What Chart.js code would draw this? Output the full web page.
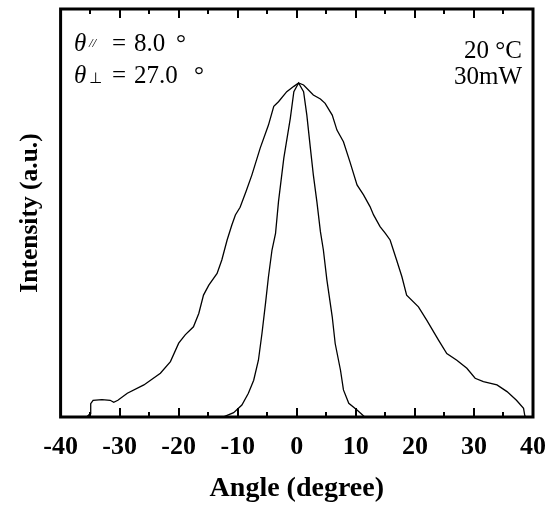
<!DOCTYPE html>
<html><head><meta charset="utf-8">
<script src="https://cdn.jsdelivr.net/npm/chart.js@4/dist/chart.umd.min.js"></script>
<style>html,body{margin:0;padding:0;background:#fff}#wrap{width:550px;height:508px;position:relative}</style>
</head><body><div id="wrap"><canvas id="c" width="550" height="508"></canvas></div>
<script>
// ---- data ----
const angleTicks = [-40, -30, -20, -10, 0, 10, 20, 30, 40];
const minorTicks = [-35, -25, -15, -5, 5, 15, 25, 35];

// perpendicular (wide) far-field pattern
const wideAngle = [-35.6, -35.0, -34.9, -34.5, -33.0, -31.6, -31.0, -30.3, -28.7, -25.9, -23.1, -21.4, -20.0, -18.9, -17.5, -16.6, -15.8, -14.9, -13.5, -12.7, -11.8, -11.0, -10.4, -9.6, -8.6, -7.6, -6.2, -4.8, -3.9, -3.1, -1.7, -0.5, 0.3, 1.15, 2.8, 4.0, 4.8, 6.0, 6.8, 7.9, 9.0, 10.2, 11.3, 12.4, 13.0, 14.1, 15.0, 15.8, 16.9, 17.8, 18.6, 20.6, 22.0, 24.0, 25.4, 27.1, 28.8, 30.2, 31.6, 33.9, 35.6, 37.2, 38.4, 38.6, 38.7];
const wideIntensity = [0.0, 0.01, 0.04, 0.05, 0.052, 0.05, 0.044, 0.05, 0.071, 0.096, 0.131, 0.166, 0.221, 0.246, 0.27, 0.31, 0.365, 0.395, 0.43, 0.47, 0.53, 0.575, 0.605, 0.628, 0.675, 0.725, 0.805, 0.874, 0.93, 0.944, 0.974, 0.99, 1.0, 0.994, 0.964, 0.952, 0.939, 0.904, 0.859, 0.824, 0.764, 0.695, 0.665, 0.63, 0.605, 0.57, 0.55, 0.53, 0.47, 0.42, 0.365, 0.33, 0.29, 0.23, 0.19, 0.17, 0.146, 0.116, 0.106, 0.096, 0.076, 0.05, 0.026, 0.005, 0.0];

// parallel (narrow) far-field pattern
const narrowAngle = [-12.5, -11.8, -10.7, -9.3, -8.2, -7.3, -6.5, -5.9, -5.3, -4.8, -4.2, -3.6, -3.1, -2.2, -1.1, -0.5, 0.3, 1.15, 1.7, 2.3, 2.8, 3.4, 4.0, 4.5, 5.1, 6.0, 6.5, 7.4, 7.9, 8.8, 10.2, 11.0, 11.5];
const narrowIntensity = [0.0, 0.005, 0.013, 0.036, 0.071, 0.11, 0.17, 0.25, 0.34, 0.42, 0.5, 0.55, 0.645, 0.775, 0.894, 0.974, 1.0, 0.974, 0.904, 0.805, 0.725, 0.645, 0.555, 0.5, 0.41, 0.30, 0.22, 0.14, 0.081, 0.041, 0.021, 0.008, 0.0];

const xTitle = 'Angle (degree)';
const yTitle = 'Intensity (a.u.)';

const SERIF = "'Liberation Serif', 'Times New Roman', serif";

function pts(xs, ys) { return xs.map((v, i) => ({ x: v, y: ys[i] })); }

const framePlugin = {
  id: 'frame',
  afterDatasetsDraw(chart) {
    const { ctx, chartArea: a, scales: { x } } = chart;
    ctx.save();
    ctx.strokeStyle = '#000';
    ctx.lineWidth = 2;
    const tickSet = angleTicks.map(v => [v, 9]).concat(minorTicks.map(v => [v, 5]));
    ctx.beginPath();
    tickSet.forEach(([v, len]) => {
      const px = Math.round(x.getPixelForValue(v));
      ctx.moveTo(px, a.bottom); ctx.lineTo(px, a.bottom - len);
      ctx.moveTo(px, a.top); ctx.lineTo(px, a.top + len);
    });
    ctx.stroke();
    ctx.lineWidth = 3;
    ctx.strokeRect(a.left, a.top, a.right - a.left, a.bottom - a.top);

    // annotations
    ctx.fillStyle = '#000';
    ctx.textBaseline = 'alphabetic';
    ctx.textAlign = 'left';
    const it = "italic 25px " + SERIF, rg = "25px " + SERIF;
    ctx.font = it; ctx.fillText('θ', 74, 51);
    ctx.font = "italic 13px " + SERIF; ctx.fillText('//', 89, 47);
    ctx.font = rg; ctx.fillText('=', 112, 51); ctx.fillText('8.0', 134, 51); ctx.fillText('°', 176, 51);
    ctx.font = it; ctx.fillText('θ', 74, 83);
    ctx.font = "15px 'DejaVu Sans', sans-serif"; ctx.fillText('⊥', 89, 83);
    ctx.font = rg; ctx.fillText('=', 112, 83); ctx.fillText('27.0', 134, 83); ctx.fillText('°', 194, 83);
    ctx.textAlign = 'right';
    ctx.fillText('20 °C', 522, 58);
    ctx.fillText('30mW', 522, 84);
    ctx.restore();
  }
};

new Chart(document.getElementById('c'), {
  type: 'scatter',
  data: {
    datasets: [
      { data: pts(wideAngle, wideIntensity), showLine: true, borderColor: '#000', borderWidth: 1.3, pointRadius: 0, tension: 0, fill: false },
      { data: pts(narrowAngle, narrowIntensity), showLine: true, borderColor: '#000', borderWidth: 1.3, pointRadius: 0, tension: 0, fill: false }
    ]
  },
  options: {
    responsive: false,
    animation: false,
    devicePixelRatio: 1,
    layout: { padding: { top: 9, right: 17, left: 0, bottom: 0 } },
    plugins: { legend: { display: false }, tooltip: { enabled: false } },
    scales: {
      x: {
        type: 'linear', min: -40, max: 40,
        afterBuildTicks: (s) => { s.ticks = angleTicks.map(v => ({ value: v })); },
        afterFit: (s) => { s.height = 91; s.paddingLeft = 0; s.paddingRight = 0; },
        grid: { display: false, drawTicks: false },
        border: { display: false },
        ticks: { color: '#000', padding: 15, maxRotation: 0, autoSkip: false, font: { family: SERIF, size: 26, weight: 'bold' } },
        title: { display: true, text: xTitle, color: '#000', padding: { top: 0, bottom: 2 }, font: { family: SERIF, size: 28, weight: 'bold' } }
      },
      y: {
        type: 'linear', min: 0, max: 1.2216,
        grid: { display: false, drawTicks: false },
        border: { display: false },
        ticks: { display: false },
        title: { display: true, text: yTitle, color: '#000', padding: { top: 15, bottom: 15 }, font: { family: SERIF, size: 25.5, weight: 'bold' } }
      }
    }
  },
  plugins: [framePlugin]
});
</script>
</body></html>
